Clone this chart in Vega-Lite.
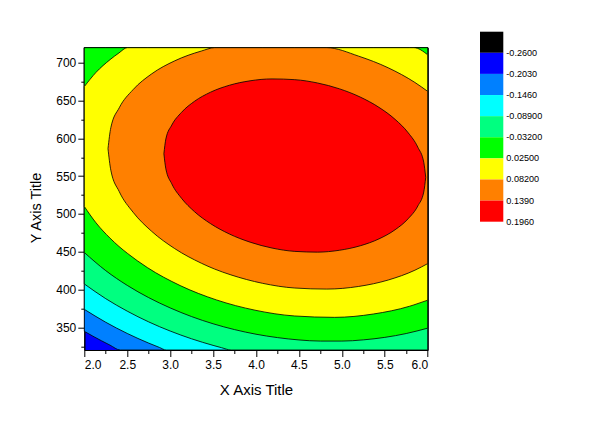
{
  "$schema": "https://vega.github.io/schema/vega-lite/v6.json",
  "width": 343.4,
  "height": 302.3,
  "autosize": {"type": "none"},
  "padding": {"left": 84.3, "top": 47.7, "right": 172.3, "bottom": 71},
  "background": "white",
  "config": {
    "font": "Liberation Sans",
    "view": {"stroke": "black", "strokeWidth": 1, "fill": "#0000FF"}
  },
  "datasets": {
    "contour": [
      {"lev": "dodger", "x": 2.0, "lo": 344.7, "hi": 720},
      {"lev": "dodger", "x": 2.1, "lo": 338.3, "hi": 720},
      {"lev": "dodger", "x": 2.2, "lo": 332.2, "hi": 720},
      {"lev": "dodger", "x": 2.3, "lo": 326.4, "hi": 720},
      {"lev": "dodger", "x": 2.418, "lo": 320, "hi": 720},
      {"lev": "dodger", "x": 6.0, "lo": 320, "hi": 720},

      {"lev": "cyan", "x": 2.0, "lo": 373.8, "hi": 720},
      {"lev": "cyan", "x": 2.25, "lo": 356.7, "hi": 720},
      {"lev": "cyan", "x": 2.5, "lo": 341.9, "hi": 720},
      {"lev": "cyan", "x": 2.75, "lo": 329.1, "hi": 720},
      {"lev": "cyan", "x": 2.875, "lo": 323.4, "hi": 720},
      {"lev": "cyan", "x": 2.953, "lo": 320, "hi": 720},
      {"lev": "cyan", "x": 6.0, "lo": 320, "hi": 720},

      {"lev": "spring", "x": 2.0, "lo": 407.4, "hi": 720},
      {"lev": "spring", "x": 2.25, "lo": 387.9, "hi": 720},
      {"lev": "spring", "x": 2.5, "lo": 371.4, "hi": 720},
      {"lev": "spring", "x": 2.75, "lo": 357.2, "hi": 720},
      {"lev": "spring", "x": 3.0, "lo": 345.1, "hi": 720},
      {"lev": "spring", "x": 3.25, "lo": 334.8, "hi": 720},
      {"lev": "spring", "x": 3.5, "lo": 326.1, "hi": 720},
      {"lev": "spring", "x": 3.6, "lo": 323.0, "hi": 720},
      {"lev": "spring", "x": 3.71, "lo": 320, "hi": 720},
      {"lev": "spring", "x": 6.0, "lo": 320, "hi": 720},

      {"lev": "green", "x": 2.0, "lo": 449.0, "hi": 720},
      {"lev": "green", "x": 2.25, "lo": 425.0, "hi": 720},
      {"lev": "green", "x": 2.5, "lo": 405.5, "hi": 720},
      {"lev": "green", "x": 2.75, "lo": 389.3, "hi": 720},
      {"lev": "green", "x": 3.0, "lo": 375.7, "hi": 720},
      {"lev": "green", "x": 3.25, "lo": 364.2, "hi": 720},
      {"lev": "green", "x": 3.5, "lo": 354.7, "hi": 720},
      {"lev": "green", "x": 3.75, "lo": 347.0, "hi": 720},
      {"lev": "green", "x": 4.0, "lo": 340.9, "hi": 720},
      {"lev": "green", "x": 4.25, "lo": 336.4, "hi": 720},
      {"lev": "green", "x": 4.5, "lo": 333.3, "hi": 720},
      {"lev": "green", "x": 4.75, "lo": 331.8, "hi": 720},
      {"lev": "green", "x": 5.0, "lo": 331.8, "hi": 720},
      {"lev": "green", "x": 5.25, "lo": 333.4, "hi": 720},
      {"lev": "green", "x": 5.5, "lo": 336.7, "hi": 720},
      {"lev": "green", "x": 5.75, "lo": 341.8, "hi": 720},
      {"lev": "green", "x": 6.0, "lo": 348.9, "hi": 720},

      {"lev": "yellow", "x": 2.0, "lo": 509.9, "hi": 668.5},
      {"lev": "yellow", "x": 2.137, "lo": 488.2, "hi": 687.4},
      {"lev": "yellow", "x": 2.3, "lo": 468.0, "hi": 704.2},
      {"lev": "yellow", "x": 2.404, "lo": 457.0, "hi": 713.1},
      {"lev": "yellow", "x": 2.5, "lo": 448.1, "hi": 720},
      {"lev": "yellow", "x": 2.734, "lo": 429.1, "hi": 720},
      {"lev": "yellow", "x": 3.116, "lo": 405.3, "hi": 720},
      {"lev": "yellow", "x": 3.538, "lo": 386.3, "hi": 720},
      {"lev": "yellow", "x": 3.988, "lo": 372.7, "hi": 720},
      {"lev": "yellow", "x": 4.452, "lo": 365.0, "hi": 720},
      {"lev": "yellow", "x": 4.916, "lo": 363.2, "hi": 720},
      {"lev": "yellow", "x": 5.366, "lo": 367.6, "hi": 720},
      {"lev": "yellow", "x": 5.789, "lo": 377.9, "hi": 720},
      {"lev": "yellow", "x": 5.84, "lo": 379.7, "hi": 720},
      {"lev": "yellow", "x": 6.0, "lo": 385.9, "hi": 710.6},

      {"lev": "orange", "x": 2.276, "lo": 586.4, "hi": 586.4},
      {"lev": "orange", "x": 2.309, "lo": 557.9, "hi": 614.2},
      {"lev": "orange", "x": 2.407, "lo": 529.6, "hi": 640.5},
      {"lev": "orange", "x": 2.568, "lo": 502.3, "hi": 664.5},
      {"lev": "orange", "x": 2.785, "lo": 477.0, "hi": 685.4},
      {"lev": "orange", "x": 3.053, "lo": 454.2, "hi": 702.6},
      {"lev": "orange", "x": 3.364, "lo": 434.8, "hi": 715.6},
      {"lev": "orange", "x": 3.518, "lo": 427.1, "hi": 720},
      {"lev": "orange", "x": 3.708, "lo": 419.4, "hi": 720},
      {"lev": "orange", "x": 4.074, "lo": 408.3, "hi": 720},
      {"lev": "orange", "x": 4.452, "lo": 402.0, "hi": 720},
      {"lev": "orange", "x": 4.825, "lo": 400.6, "hi": 720},
      {"lev": "orange", "x": 5.196, "lo": 404.1, "hi": 708.8},
      {"lev": "orange", "x": 5.54, "lo": 412.6, "hi": 693.4},
      {"lev": "orange", "x": 5.851, "lo": 425.6, "hi": 674.0},
      {"lev": "orange", "x": 6.0, "lo": 434.3, "hi": 662.2},

      {"lev": "red", "x": 2.927, "lo": 579.7, "hi": 579.7},
      {"lev": "red", "x": 2.95, "lo": 559.7, "hi": 599.2},
      {"lev": "red", "x": 3.019, "lo": 539.9, "hi": 617.6},
      {"lev": "red", "x": 3.132, "lo": 520.8, "hi": 634.4},
      {"lev": "red", "x": 3.284, "lo": 503.0, "hi": 649.1},
      {"lev": "red", "x": 3.472, "lo": 487.1, "hi": 661.2},
      {"lev": "red", "x": 3.69, "lo": 473.5, "hi": 670.3},
      {"lev": "red", "x": 3.931, "lo": 462.7, "hi": 676.2},
      {"lev": "red", "x": 4.187, "lo": 454.9, "hi": 678.7},
      {"lev": "red", "x": 4.452, "lo": 450.5, "hi": 677.7},
      {"lev": "red", "x": 4.717, "lo": 449.5, "hi": 673.3},
      {"lev": "red", "x": 4.974, "lo": 452.0, "hi": 665.5},
      {"lev": "red", "x": 5.214, "lo": 457.9, "hi": 654.7},
      {"lev": "red", "x": 5.432, "lo": 467.0, "hi": 641.1},
      {"lev": "red", "x": 5.62, "lo": 479.1, "hi": 625.2},
      {"lev": "red", "x": 5.773, "lo": 493.8, "hi": 607.4},
      {"lev": "red", "x": 5.885, "lo": 510.6, "hi": 588.3},
      {"lev": "red", "x": 5.954, "lo": 529.0, "hi": 568.5},
      {"lev": "red", "x": 5.977, "lo": 548.5, "hi": 548.5}
    ],
    "legend": [
      {"band": 0, "label": "-0.2600"},
      {"band": 1, "label": "-0.2030"},
      {"band": 2, "label": "-0.1460"},
      {"band": 3, "label": "-0.08900"},
      {"band": 4, "label": "-0.03200"},
      {"band": 5, "label": "0.02500"},
      {"band": 6, "label": "0.08200"},
      {"band": 7, "label": "0.1390"},
      {"band": 8, "label": "0.1960"}
    ]
  },
  "layer": [
    {
      "data": {"name": "contour"},
      "encoding": {
        "x": {
          "field": "x", "type": "quantitative",
          "scale": {"domain": [2, 6], "nice": false, "zero": false},
          "axis": {
            "title": "X Axis Title",
            "values": [2, 2.25, 2.5, 2.75, 3, 3.25, 3.5, 3.75, 4, 4.25, 4.5, 4.75, 5, 5.25, 5.5, 5.75, 6],
            "format": ".1f",
            "labelExpr": "datum.value % 0.5 === 0 ? datum.label : ''",
            "tickSize": {"condition": {"test": "datum.value % 0.5 !== 0", "value": 3.5}, "value": 6.5},
            "grid": false,
            "domainColor": "black", "tickColor": "black", "labelColor": "black",
            "labelFont": "Liberation Sans", "labelFontSize": 12, "labelPadding": 2.5,
            "titleFont": "Liberation Sans", "titleFontSize": 15, "titleFontWeight": "normal", "titleColor": "black",
            "titleX": 171.7, "titleY": 44.3, "titleBaseline": "alphabetic", "titleAlign": "center"
          }
        },
        "y": {
          "field": "lo", "type": "quantitative",
          "scale": {"domain": [320, 720], "nice": false, "zero": false},
          "axis": {
            "title": "Y Axis Title",
            "values": [325, 350, 375, 400, 425, 450, 475, 500, 525, 550, 575, 600, 625, 650, 675, 700],
            "labelExpr": "datum.value % 50 === 0 ? datum.label : ''",
            "tickSize": {"condition": {"test": "datum.value % 50 !== 0", "value": 3.5}, "value": 6.5},
            "grid": false,
            "domainColor": "black", "tickColor": "black", "labelColor": "black",
            "labelFont": "Liberation Sans", "labelFontSize": 12, "labelPadding": 2,
            "titleFont": "Liberation Sans", "titleFontSize": 14.5, "titleFontWeight": "normal", "titleColor": "black",
            "titleX": -43.6, "titleY": 159.8, "titleAngle": 270, "titleBaseline": "alphabetic", "titleAlign": "center"
          }
        },
        "y2": {"field": "hi"}
      },
      "layer": [
        {"transform": [{"filter": "datum.lev === 'dodger'"}], "mark": {"type": "area", "fill": "#0080FF", "stroke": "black", "strokeWidth": 0.8, "interpolate": "monotone"}},
        {"transform": [{"filter": "datum.lev === 'cyan'"}], "mark": {"type": "area", "fill": "#00FFFF", "stroke": "black", "strokeWidth": 0.8, "interpolate": "monotone"}},
        {"transform": [{"filter": "datum.lev === 'spring'"}], "mark": {"type": "area", "fill": "#00FF80", "stroke": "black", "strokeWidth": 0.8, "interpolate": "monotone"}},
        {"transform": [{"filter": "datum.lev === 'green'"}], "mark": {"type": "area", "fill": "#00FF00", "stroke": "black", "strokeWidth": 0.8, "interpolate": "monotone"}},
        {"transform": [{"filter": "datum.lev === 'yellow'"}], "mark": {"type": "area", "fill": "#FFFF00", "stroke": "black", "strokeWidth": 0.8, "interpolate": "monotone"}},
        {"transform": [{"filter": "datum.lev === 'orange'"}], "mark": {"type": "area", "fill": "#FF8000", "stroke": "black", "strokeWidth": 0.8, "interpolate": "monotone"}},
        {"transform": [{"filter": "datum.lev === 'red'"}], "mark": {"type": "area", "fill": "#FF0000", "stroke": "black", "strokeWidth": 0.8, "interpolate": "monotone"}}
      ]
    },
    {
      "data": {"name": "legend"},
      "encoding": {
        "y": {
          "field": "band", "type": "ordinal",
          "scale": {"domain": [0, 1, 2, 3, 4, 5, 6, 7, 8], "range": [-16, 174], "paddingInner": 0, "paddingOuter": 0},
          "axis": null
        }
      },
      "layer": [
        {
          "mark": {"type": "rect"},
          "encoding": {
            "x": {"datum": 0, "type": "quantitative", "scale": {"domain": [0, 1], "range": [395.7, 419]}, "axis": null},
            "x2": {"datum": 1},
            "color": {
              "field": "band", "type": "ordinal",
              "scale": {"domain": [0, 1, 2, 3, 4, 5, 6, 7, 8], "range": ["#000000", "#0000FF", "#0080FF", "#00FFFF", "#00FF80", "#00FF00", "#FFFF00", "#FF8000", "#FF0000"]},
              "legend": null
            }
          }
        },
        {
          "mark": {"type": "text", "align": "left", "baseline": "middle", "dx": 3, "fontSize": 9.1, "font": "Liberation Sans", "color": "black"},
          "encoding": {
            "x": {"datum": 1, "type": "quantitative"},
            "y": {"field": "band", "type": "ordinal", "bandPosition": 1},
            "text": {"field": "label"}
          }
        }
      ]
    }
  ],
  "resolve": {
    "scale": {"x": "independent", "y": "independent", "color": "independent"},
    "axis": {"x": "independent", "y": "independent"}
  }
}
